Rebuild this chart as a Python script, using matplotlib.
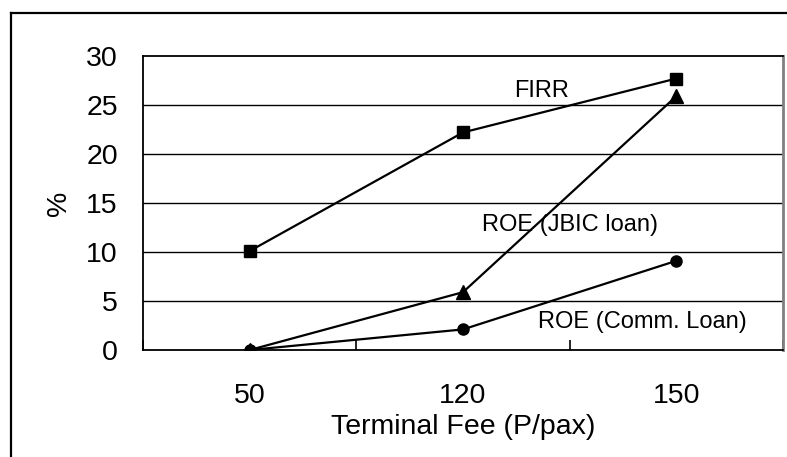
import matplotlib
matplotlib.use("Agg")
import matplotlib.pyplot as plt
from matplotlib.lines import Line2D

plt.rcParams['font.family'] = ['Liberation Sans', 'DejaVu Sans']

fees = ["50", "120", "150"]
firr = [10.1, 22.2, 27.7]
roe_jbic = [0.0, 5.9, 25.9]
roe_comm = [0.0, 2.1, 9.1]

W, H = 787, 457
fig = plt.figure(figsize=(W / 100, H / 100), dpi=100)
ax = fig.add_axes([143 / W, 1 - 350 / H, 640 / W, 294 / H])

x = range(len(fees))

# horizontal gridlines
for yv in range(5, 30, 5):
    ax.axhline(yv, color='black', lw=1.0, zorder=1)

ax.plot(x, firr, color='black', lw=1.6, marker='s', ms=8.5, zorder=3)
ax.plot(x, roe_jbic, color='black', lw=1.6, marker='^', ms=9.5, zorder=3)
ax.plot(x, roe_comm, color='black', lw=1.6, marker='o', ms=8, zorder=3)

ax.set_xlim(-0.5, 2.5)
ax.set_ylim(0, 30)
ax.set_yticks(range(0, 31, 5))
ax.set_xticks(list(x))
ax.set_xticklabels(fees)
ax.set_xticks([-0.5, 0.5, 1.5, 2.5], minor=True)
ax.tick_params(axis='x', which='major', length=0, pad=24, labelsize=20.5)
ax.tick_params(axis='x', which='minor', direction='in', length=7, width=1.2)
ax.tick_params(axis='y', length=0, pad=18, labelsize=20.5)

for s in ['left', 'bottom', 'top']:
    ax.spines[s].set_color('black')
    ax.spines[s].set_linewidth(1.3)
ax.spines['right'].set_color('#808080')
ax.spines['right'].set_linewidth(2)

ax.set_ylabel('%', fontsize=20.5, labelpad=10)
ax.set_xlabel('Terminal Fee (P/pax)', fontsize=20.5, labelpad=3)

ax.text(1.37, 26.4, 'FIRR', fontsize=17, ha='center', va='center')
ax.text(1.5, 12.8, 'ROE (JBIC loan)', fontsize=17, ha='center', va='center')
ax.text(1.84, 2.9, 'ROE (Comm. Loan)', fontsize=17, ha='center', va='center')

# outer border around the chart area
fig.add_artist(Line2D([11 / W, 11 / W], [0, 1 - 12.5 / H], transform=fig.transFigure,
                      color='black', lw=1.6))
fig.add_artist(Line2D([11 / W, 1], [1 - 12.5 / H, 1 - 12.5 / H], transform=fig.transFigure,
                      color='black', lw=1.6))

fig.savefig('out.png', dpi=100)
